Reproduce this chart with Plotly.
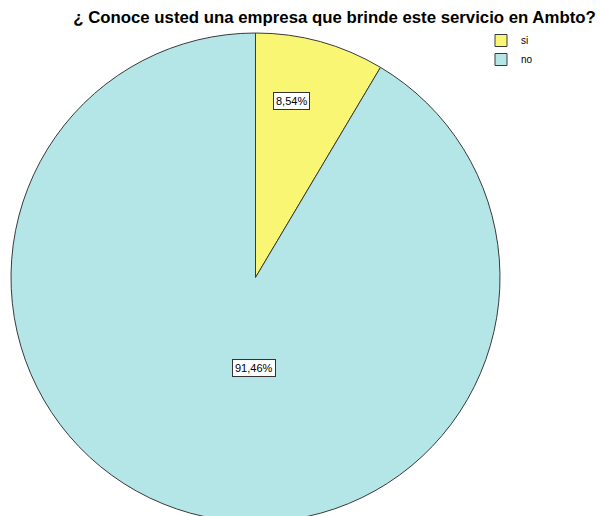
import math
import plotly.graph_objects as go

# ---- data ----
categories = ["si", "no"]
percentages = [8.54, 91.46]
slice_colors = ["#F8F672", "#B5E6E7"]
title_text = "¿ Conoce usted una empresa que brinde este servicio en Ambto?"

W, H = 600, 540
T, B = 33, 18
cx_px, cy_px, r_px = 255.5, 277.5, 244.5
PH = H - T - B

fig = go.Figure(
    go.Pie(
        labels=categories,
        values=percentages,
        sort=False,
        direction="clockwise",
        rotation=0,
        marker=dict(colors=slice_colors, line=dict(color="#3a3a3a", width=1)),
        textinfo="none",
        hoverinfo="label+percent",
        domain=dict(x=[(cx_px - r_px) / W, (cx_px + r_px) / W], y=[0, 1]),
    )
)

# percentage labels in boxes, positioned from the slice angles
label_radius = [0.737, 0.37]
total = sum(percentages)
start = 0.0
annotations = []
for cat, val, rf in zip(categories, percentages, label_radius):
    span = val / total * 360.0
    mid = start + span / 2.0
    if cat == "no":
        mid = 180.0 + (mid - 180.0) * 0.05
    else:
        mid = mid * 0.76
    start += span
    ang = math.radians(mid)
    px = cx_px + rf * r_px * math.sin(ang)
    py = cy_px - rf * r_px * math.cos(ang)
    annotations.append(
        dict(
            x=px / W,
            y=1 - (py - T) / PH,
            xref="paper",
            yref="paper",
            xanchor="center",
            yanchor="middle",
            text=f"{val:.2f}%".replace(".", ","),
            showarrow=False,
            bgcolor="white",
            bordercolor="#333333",
            borderwidth=1,
            borderpad=2,
            font=dict(family="Liberation Sans, Arial", size=11, color="black"),
        )
    )

fig.update_layout(
    width=W,
    height=H,
    margin=dict(l=0, r=0, t=T, b=B),
    paper_bgcolor="white",
    plot_bgcolor="white",
    title=dict(
        text=f"<b>{title_text}</b>",
        x=334.5 / W,
        xanchor="center",
        y=1 - 17 / H,
        yanchor="middle",
        font=dict(family="Liberation Sans, Arial", size=16.8, color="black"),
    ),
    showlegend=True,
    legend=dict(
        x=481 / W,
        y=1 - (26 - T) / PH,
        xanchor="left",
        yanchor="top",
        font=dict(family="Liberation Sans, Arial", size=10, color="black"),
        bgcolor="rgba(0,0,0,0)",
        itemwidth=30,
        tracegroupgap=0,
    ),
    annotations=annotations,
)

fig.write_html(
    "out.html",
    post_script="document.body.style.margin='0';document.body.style.overflow='hidden';",
)
